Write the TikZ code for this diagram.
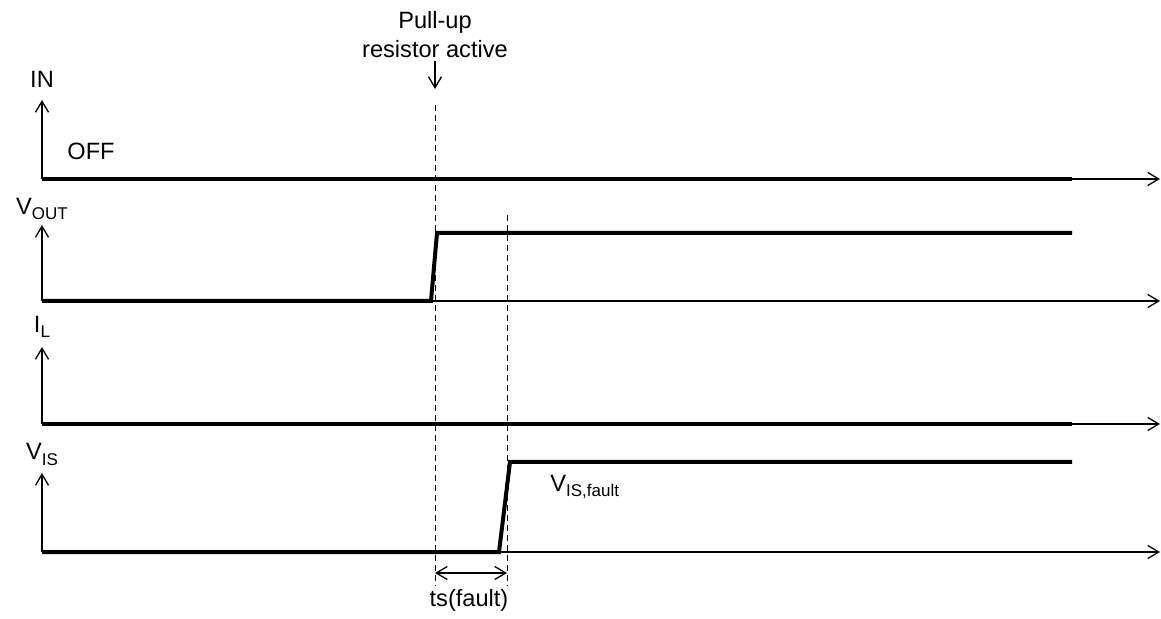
\documentclass[tikz,border=0pt]{standalone}
\usepackage{fontspec}
\setmainfont{Liberation Sans}
\usetikzlibrary{arrows.meta, positioning}
\newcommand{\lowtxt}[1]{\raisebox{-2.5pt}{\fontsize{8.5}{9}\selectfont #1}}

\begin{document}
\begin{tikzpicture}[
    x = 0.5pt, y = -0.5pt,
    axis/.style = {black, line width=0.65pt, -{Straight Barb[length=5.5pt, width=6.5pt]}},
    trace/.style = {black, line width=2pt},
    guide/.style = {black, line width=0.45pt, dash pattern=on 3pt off 2pt},
    lbl/.style = {inner sep=0pt},
    font=\fontsize{11.8}{14.5}\selectfont
    ]
  \useasboundingbox (0,0) rectangle (1161,619);

  % axes: origin, y tip, x tip
  \coordinate (inO) at (42,179) ;  \coordinate (inY) at (42,100) ;  \coordinate (inX) at (1160,179) ;
  \coordinate (voO) at (42,301) ;  \coordinate (voY) at (42,225) ;  \coordinate (voX) at (1160,301) ;
  \coordinate (ilO) at (42,424) ;  \coordinate (ilY) at (42,347) ;  \coordinate (ilX) at (1160,424) ;
  \coordinate (viO) at (42,552) ;  \coordinate (viY) at (42,473) ;  \coordinate (viX) at (1160,552) ;

  \draw[axis] (inO) -- (inY) ;  \draw[axis] (inO) -- (inX) ;
  \draw[axis] (voO) -- (voY) ;  \draw[axis] (voO) -- (voX) ;
  \draw[axis] (ilO) -- (ilY) ;  \draw[axis] (ilO) -- (ilX) ;
  \draw[axis] (viO) -- (viY) ;  \draw[axis] (viO) -- (viX) ;

  \node[lbl, anchor=base] (inlbl) at (42,88) {IN} ;
  \node[lbl, anchor=base] (volbl) at (42,215) {V\lowtxt{OUT}} ;
  \node[lbl, anchor=base] (illbl) at (42,333) {I\lowtxt{L}} ;
  \node[lbl, anchor=base] (vilbl) at (42,460) {V\lowtxt{IS}} ;

  \node[lbl, anchor=base west] (off) at (67,160) {OFF} ;
  \node[lbl, anchor=base west] (visf) at (550,492) {V\lowtxt{IS,fault}} ;

  % waveforms
  \draw[trace] (inO) -- (1072,179) ;
  \draw[trace] (voO) -- (431,301) -- (437,233) -- (1072,233) ;
  \draw[trace] (ilO) -- (1072,424) ;
  \draw[trace] (viO) -- (499,552) -- (510,462) -- (1072,462) ;

  % timing marks
  \coordinate (t1top) at (435,105) ;  \coordinate (t1bot) at (435,586) ;
  \coordinate (t2top) at (507,215) ;  \coordinate (t2bot) at (507,586) ;
  \draw[guide] (t1top) -- (t1bot) ;
  \draw[guide] (t2top) -- (t2bot) ;

  \node[lbl, align=center, anchor=south] (pullup) at (435,58) {Pull-up\\resistor active} ;
  \coordinate (pumark) at (435,89) ;
  \draw[axis] ([yshift=-1.5pt]pullup.south) -- (pumark) ;

  \coordinate (tsA) at (435,573) ;  \coordinate (tsB) at (507,573) ;
  \draw[axis, {Straight Barb[length=5.5pt, width=6.5pt]}-{Straight Barb[length=5.5pt, width=6.5pt]}] (tsA) -- (tsB) ;
  \node[lbl, anchor=base] (ts) at (469,606) {ts(fault)} ;

\end{tikzpicture}
\end{document}
